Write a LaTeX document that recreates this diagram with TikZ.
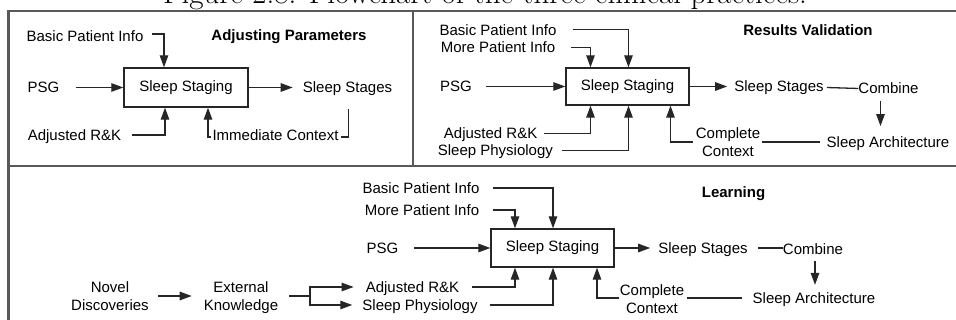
\documentclass[tikz,border=0pt]{standalone}
\usepackage{fontspec}
\newfontfamily\arial{Liberation Sans}
\usetikzlibrary{arrows.meta,calc}

\tikzset{
  lbl/.style={inner sep=0pt, font=\arial\fontsize{15}{18}\selectfont, text height=10.7pt, text depth=0pt},
  lbltwo/.style={inner sep=0pt, font=\arial\fontsize{15}{18}\selectfont, align=center, anchor=north},
  ttl/.style={inner sep=0pt, font=\arial\bfseries\fontsize{15}{18}\selectfont, text height=10.7pt, text depth=0pt},
  procbox/.style={draw=black!85, line width=1.4pt, inner sep=0pt, font=\arial\fontsize{15}{18}\selectfont},
  conn/.style={draw=black!85, line width=1.3pt},
  arr/.style={conn, -{Triangle[length=12pt,width=8.5pt]}},
  frame/.style={draw=black!65, line width=2.2pt},
}

\begin{document}
\begin{tikzpicture}[x=1pt,y=1pt]
\useasboundingbox (0,0) rectangle (956,-320);
\clip (0,0) rectangle (956,-320);

% caption above the chart
\node[anchor=base, inner sep=0pt, font=\fontsize{31}{36}\selectfont] (cap) at (485,-3.5)
  {Figure 2.8: Flowchart of the three clinical practices.};

% panel frame
\draw[frame] (8.5,-330) -- (8.5,-11) -- (970,-11);
\draw[frame] (413,-11) -- (413,-166);
\draw[frame] (8.5,-166) -- (970,-166);

% ---------- Adjusting Parameters ----------
\node[ttl] (title1) at (289,-35) {Adjusting Parameters};
\node[procbox, minimum width=124pt, minimum height=39pt] (ss1) at (186,-87.5) {Sleep Staging};
\node[lbl] (bpi1) at (85,-36) {Basic Patient Info};
\node[lbl] (psg1) at (43.5,-87.5) {PSG};
\node[lbl] (st1) at (347.5,-87.5) {Sleep Stages};
\node[lbl] (ark1) at (74.5,-135) {Adjusted R\&K};
\node[lbl] (ic1) at (275.5,-135) {Immediate Context};

\draw[arr] ($(bpi1.east)+(8,2)$) -| ($(ss1.north)+(-22,0)$);
\draw[arr] ($(psg1.east)+(16,0)$) -- (ss1.west);
\draw[arr] (ss1.east) -- ($(st1.west)+(-10,0)$);
\draw[arr] ($(ark1.east)+(11,0)$) -| ($(ss1.south)+(-21,0)$);
\draw[arr] ($(ic1.west)+(-1,-2)$) -| ($(ss1.south)+(22,0)$);
\draw[conn] ($(ic1.east)+(2,-2)$) -| ($(st1.south)+(1,-15.5)$);

% ---------- Results Validation ----------
\node[ttl] (title2) at (808,-30.4) {Results Validation};
\node[procbox, minimum width=123pt, minimum height=37pt] (ss2) at (627.5,-86.5) {Sleep Staging};
\node[lbl] (bpi2) at (498,-29.7) {Basic Patient Info};
\node[lbl] (mpi2) at (498,-47.2) {More Patient Info};
\node[lbl] (psg2) at (456,-86.5) {PSG};
\node[lbl] (st2) at (779,-86.5) {Sleep Stages};
\node[lbl] (comb2) at (888.5,-88.5) {Combine};
\node[lbl] (sa2) at (888,-142) {Sleep Architecture};
\node[lbltwo] (cc2) at (728,-127.5) {Complete\\Context};
\node[lbl] (ark2) at (490.6,-133.5) {Adjusted R\&K};
\node[lbl] (sp2) at (495.4,-150.6) {Sleep Physiology};

\draw[arr] ($(bpi2.east)+(16,0)$) -| ($(ss2.north)+(1,0)$);
\draw[arr] ($(mpi2.east)+(16,0)$) -| ($(ss2.north)+(-37,0)$);
\draw[arr] ($(psg2.east)+(14,0)$) -- (ss2.west);
\draw[arr] (ss2.east) -- ($(st2.west)+(-7,0)$);
\draw[conn] ($(st2.east)+(3,-1)$) -- (comb2.west);
\draw[arr] ($(comb2.south)+(-8,-6.5)$) -- ($(comb2.south |- sa2.north)+(-8,10.4)$);
\draw[arr] ($(cc2.west |- sa2)+(-3,0)$) -| ($(ss2.south)+(43,0)$);
\draw[conn] ($(cc2.east |- sa2)+(2,0)$) -- ($(sa2.west)+(-7,0)$);
\draw[arr] ($(ark2.east)+(7,0)$) -| ($(ss2.south)+(-37,0)$);
\draw[arr] ($(sp2.east)+(9,0)$) -| ($(ss2.south)+(1,0)$);

% ---------- Learning ----------
\node[ttl] (title3) at (733.5,-192) {Learning};
\node[procbox, minimum width=123pt, minimum height=38pt] (ss3) at (552.5,-248) {Sleep Staging};
\node[lbl] (bpi3) at (421,-188) {Basic Patient Info};
\node[lbl] (mpi3) at (422,-210) {More Patient Info};
\node[lbl] (psg3) at (382.5,-248) {PSG};
\node[lbl] (st3) at (703,-248) {Sleep Stages};
\node[lbl] (comb3) at (813,-249) {Combine};
\node[lbl] (sa3) at (814,-298) {Sleep Architecture};
\node[lbltwo] (cc3) at (652,-284.6) {Complete\\Context};
\node[lbl] (ark3) at (412.5,-287) {Adjusted R\&K};
\node[lbl] (sp3) at (420,-305) {Sleep Physiology};
\node[lbltwo] (nd3) at (110,-281.6) {Novel\\Discoveries};
\node[lbltwo] (ek3) at (241,-281.6) {External\\Knowledge};
\coordinate (br3) at (310,-296);

\draw[arr] ($(bpi3.east)+(13,0)$) -| ($(ss3.north)+(0.5,0)$);
\draw[arr] ($(mpi3.east)+(14,0)$) -| ($(ss3.north)+(-37.5,0)$);
\draw[arr] ($(psg3.east)+(15,0)$) -- (ss3.west);
\draw[arr] (ss3.east) -- ($(st3.west)+(-8,0)$);
\draw[conn] ($(st3.east)+(10,0)$) -- (comb3.west |- st3.east);
\draw[arr] ($(comb3.south)+(2,-6.7)$) -- ($(comb3.south |- sa3.north)+(2,7.6)$);
\draw[arr] ($(cc3.west |- sa3)+(-1,0)$) -| ($(ss3.south)+(44.5,0)$);
\draw[conn] ($(cc3.east |- sa3)+(3,0)$) -- ($(sa3.west)+(-11,0)$);
\draw[arr] ($(ark3.east)+(13,0)$) -| ($(ss3.south)+(-37.5,0)$);
\draw[arr] ($(sp3.east)+(12,0)$) -| ($(ss3.south)+(0.5,0)$);
\draw[arr] ($(nd3.east |- br3)+(9,0)$) -- ($(ek3.west |- br3)+(-12,0)$);
\draw[conn] ($(ek3.east |- br3)+(11,0)$) -- (br3);
\draw[arr] (br3) |- ($(ark3.west)+(-12,0)$);
\draw[arr] (br3) |- ($(sp3.west)+(-10,0)$);
\end{tikzpicture}
\end{document}
